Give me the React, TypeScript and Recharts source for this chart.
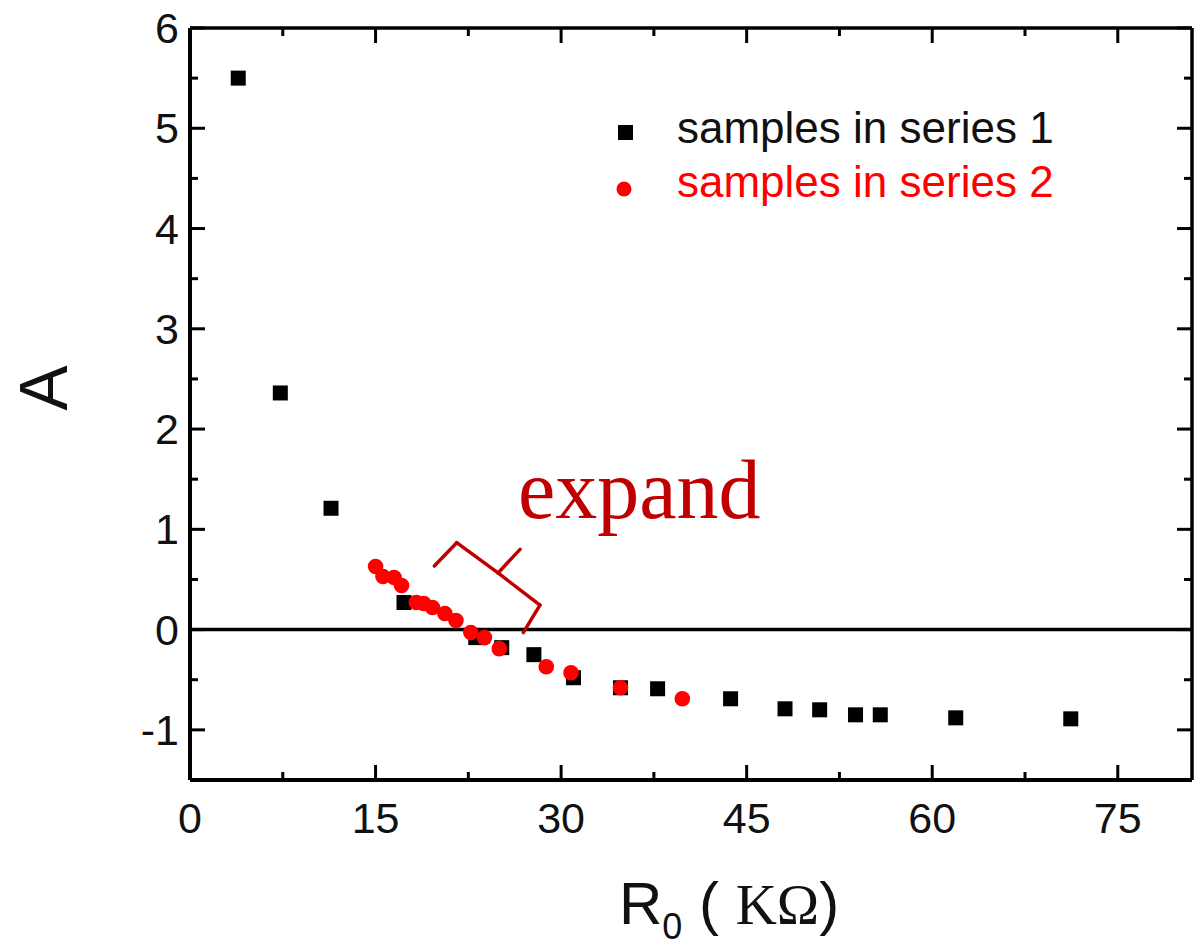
import { ReferenceLine, Scatter, ScatterChart, XAxis, YAxis, Customized } from 'recharts';

// samples in series 1 (black squares)
const s1R = [3.9, 7.3, 11.4, 17.3, 23.1, 25.2, 27.8, 31.0, 34.8, 37.8, 43.7, 48.1, 50.9, 53.8, 55.8, 61.9, 71.2];
const s1A = [5.5, 2.36, 1.21, 0.27, -0.08, -0.18, -0.25, -0.48, -0.58, -0.59, -0.69, -0.79, -0.8, -0.85, -0.85, -0.88, -0.89];

// samples in series 2 (red dots)
const s2R = [15.0, 15.6, 16.5, 17.1, 18.3, 18.9, 19.6, 20.6, 21.5, 22.7, 23.8, 25.0, 28.8, 30.8, 34.8, 39.8];
const s2A = [0.63, 0.53, 0.52, 0.44, 0.27, 0.26, 0.22, 0.16, 0.09, -0.03, -0.08, -0.19, -0.37, -0.43, -0.58, -0.69];

const xTicks = [0, 7.5, 15, 22.5, 30, 37.5, 45, 52.5, 60, 67.5, 75];
const yTicks = [-1.5, -1, -0.5, 0, 0.5, 1, 1.5, 2, 2.5, 3, 3.5, 4, 4.5, 5, 5.5, 6];

// brace next to "expand", in data units
const brace = [
  [19.75, 0.634, 21.56, 0.867],
  [21.56, 0.867, 24.9, 0.565],
  [24.9, 0.565, 26.68, 0.8],
  [24.9, 0.565, 28.29, 0.245],
  [28.29, 0.245, 26.94, -0.03],
];

const series1 = s1R.map((r, i) => ({ r, a: s1A[i] }));
const series2 = s2R.map((r, i) => ({ r, a: s2A[i] }));

const SANS = '"Liberation Sans", Arial, sans-serif';
const SERIF = '"Liberation Serif", "Times New Roman", serif';
const DARKRED = '#c00000';

const isMajorX = (v: number) => v % 15 === 0;
const isMajorY = (v: number) => Number.isInteger(v);

function BottomTick({ x, y, payload }: any) {
  const v = payload.value;
  const len = isMajorX(v) ? 15 : 8;
  return (
    <g>
      <line x1={x} x2={x} y1={y} y2={y - len} stroke="#000" strokeWidth={3} />
      {isMajorX(v) && (
        <text x={x} y={y + 53} textAnchor="middle" fontSize={43} fontFamily={SANS} fill="#111">
          {v}
        </text>
      )}
    </g>
  );
}

function TopTick({ x, y, payload }: any) {
  const len = isMajorX(payload.value) ? 15 : 8;
  return <line x1={x} x2={x} y1={y} y2={y + len} stroke="#000" strokeWidth={3} />;
}

function LeftTick({ x, y, payload }: any) {
  const v = payload.value;
  const len = isMajorY(v) ? 15 : 8;
  return (
    <g>
      <line x1={x} x2={x + len} y1={y} y2={y} stroke="#000" strokeWidth={3} />
      {isMajorY(v) && (
        <text x={x - 11} y={y + 15} textAnchor="end" fontSize={43} fontFamily={SANS} fill="#111">
          {v}
        </text>
      )}
    </g>
  );
}

function RightTick({ x, y, payload }: any) {
  const len = isMajorY(payload.value) ? 15 : 8;
  return <line x1={x} x2={x - len} y1={y} y2={y} stroke="#000" strokeWidth={3} />;
}

const Square = ({ cx, cy }: any) => <rect x={cx - 7.5} y={cy - 7.5} width={15} height={15} fill="#000" />;
const Dot = ({ cx, cy }: any) => <circle cx={cx} cy={cy} r={7.8} fill="#ff0000" />;

function Extras() {
  return (
    <g>
      {/* legend */}
      <rect x={618} y={125} width={15} height={15} fill="#000" />
      <text x={677} y={143} fontSize={44} fontFamily={SANS} fill="#111">
        samples in series 1
      </text>
      <circle cx={624} cy={189} r={7.5} fill="#ff0000" />
      <text x={677} y={197} fontSize={44} fontFamily={SANS} fill="#ff0000">
        samples in series 2
      </text>

      {/* annotation */}
      <text x={518} y={518} fontSize={84} fontFamily={SERIF} fill={DARKRED}>
        expand
      </text>

      {/* axis titles */}
      <text
        x={43}
        y={388}
        fontSize={68}
        fontFamily={SANS}
        textAnchor="middle"
        dominantBaseline="central"
        transform="rotate(-90 43 388)"
        fill="#111"
      >
        A
      </text>
      <text x={619} y={924} fontSize={60} fontFamily={SANS} fill="#111">
        R
        <tspan fontSize={36} dy={15}>0</tspan>
        <tspan dy={-15}> ( </tspan>
        <tspan fontFamily={SERIF} fontSize={57}>KΩ</tspan>
        <tspan>)</tspan>
      </text>
    </g>
  );
}

export default function App() {
  return (
    <div style={{ position: 'absolute', left: 0, top: 0, width: 1195, height: 946, background: '#fff' }}>
      <ScatterChart width={1195} height={946} margin={{ top: 0, right: 0, bottom: 0, left: 0 }}>
        <XAxis
          xAxisId="b"
          type="number"
          dataKey="r"
          orientation="bottom"
          domain={[0, 81]}
          ticks={xTicks}
          interval={0}
          allowDataOverflow
          height={166}
          tickSize={0}
          tickMargin={0}
          tickLine={false}
          axisLine={{ stroke: '#000', strokeWidth: 4 }}
          tick={BottomTick}
        />
        <XAxis
          xAxisId="t"
          type="number"
          dataKey="r"
          orientation="top"
          domain={[0, 81]}
          ticks={xTicks}
          interval={0}
          allowDataOverflow
          height={28}
          tickSize={0}
          tickMargin={0}
          tickLine={false}
          axisLine={{ stroke: '#000', strokeWidth: 3.5 }}
          tick={TopTick}
        />
        <YAxis
          yAxisId="l"
          type="number"
          dataKey="a"
          orientation="left"
          domain={[-1.5, 6]}
          ticks={yTicks}
          interval={0}
          allowDataOverflow
          width={190}
          tickSize={0}
          tickMargin={0}
          tickLine={false}
          axisLine={{ stroke: '#000', strokeWidth: 4 }}
          tick={LeftTick}
        />
        <YAxis
          yAxisId="r"
          type="number"
          dataKey="a"
          orientation="right"
          domain={[-1.5, 6]}
          ticks={yTicks}
          interval={0}
          allowDataOverflow
          width={3}
          tickSize={0}
          tickMargin={0}
          tickLine={false}
          axisLine={{ stroke: '#000', strokeWidth: 3.5 }}
          tick={RightTick}
        />
        <ReferenceLine xAxisId="b" yAxisId="l" y={0} stroke="#000" strokeWidth={3.5} />
        {brace.map(([x1, y1, x2, y2], i) => (
          <ReferenceLine
            key={i}
            xAxisId="b"
            yAxisId="l"
            segment={[
              { x: x1, y: y1 },
              { x: x2, y: y2 },
            ]}
            stroke={DARKRED}
            strokeWidth={3.5}
            strokeLinecap="round"
          />
        ))}
        <Scatter
          xAxisId="b"
          yAxisId="l"
          data={series1}
          shape={Square}
          isAnimationActive={false}
        />
        <Scatter
          xAxisId="b"
          yAxisId="l"
          data={series2}
          shape={Dot}
          isAnimationActive={false}
        />
        <Customized component={Extras} />
      </ScatterChart>
    </div>
  );
}
